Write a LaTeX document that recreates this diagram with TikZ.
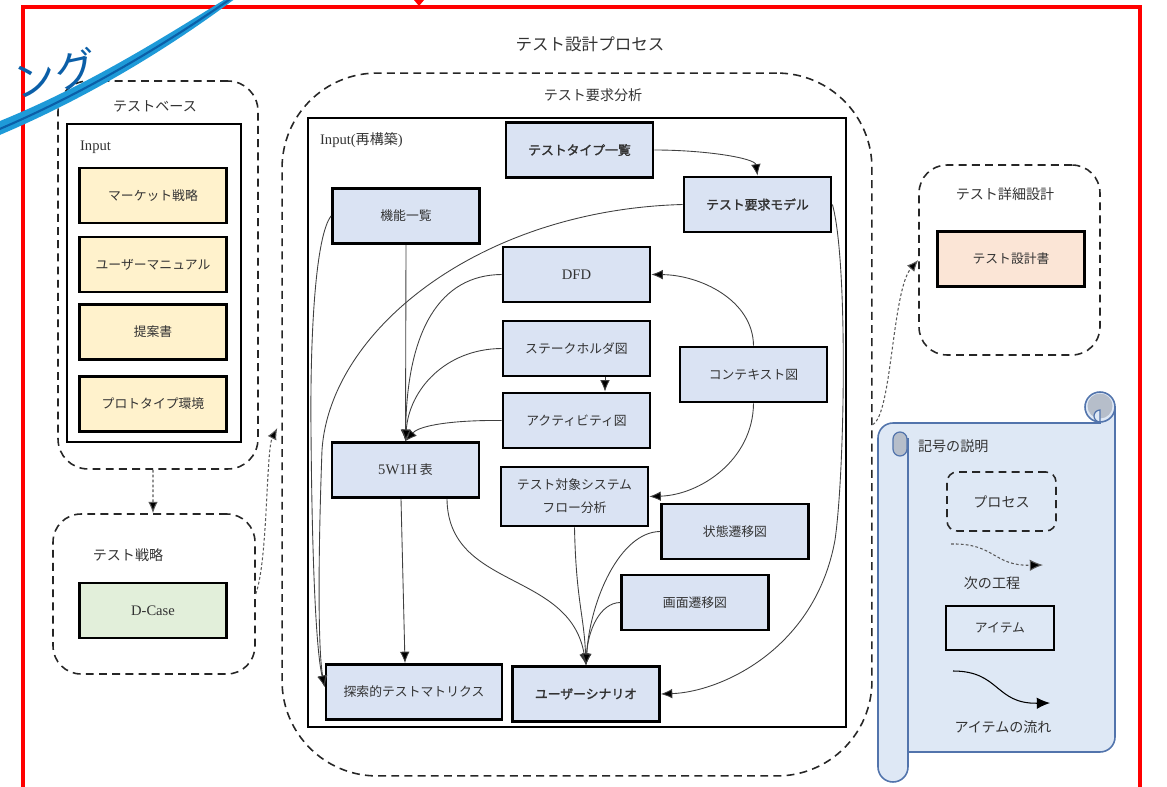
\documentclass[tikz,border=0pt]{standalone}
\usepackage{fontspec}
\setmainfont{Liberation Serif}
\newfontfamily\jp{Noto Sans CJK JP}
\newfontfamily\jpbf{Noto Sans CJK JP}[FakeBold=1.8]
\usetikzlibrary{arrows.meta}

\definecolor{itemblue}{HTML}{DAE3F3}
\definecolor{itemyellow}{HTML}{FFF2CC}
\definecolor{itemgreen}{HTML}{E2EFDA}
\definecolor{itempeach}{HTML}{FBE5D6}
\definecolor{scrollfill}{HTML}{DEE8F5}
\definecolor{scrollline}{HTML}{5274AC}
\definecolor{curlgray}{HTML}{B6BECA}
\definecolor{txt}{HTML}{333333}
\definecolor{penblue}{HTML}{1E9AD8}
\definecolor{pendark}{HTML}{0B5FA8}

% Latin words inside Japanese labels
\newcommand\mylatin[1]{{\rmfamily\fontsize{8.3}{10}\selectfont #1}}

\begin{document}
\begin{tikzpicture}[x=0.02cm, y=-0.02cm,
  boxtext/.style={font=\jp\fontsize{7.3}{13}\selectfont, text=txt},
  lbl/.style={font=\jp\fontsize{8}{10}\selectfont, text=txt, inner sep=1pt},
  item/.style={draw=black, line width=1.6pt, fill=itemblue, minimum width=2.94cm,
               minimum height=1.1cm, inner sep=1pt, align=center, boxtext},
  bolditem/.style={item, font=\jpbf\fontsize{7.3}{13}\selectfont},
  holder/.style={draw=black, line width=1.4pt, inner sep=0pt},
  process/.style={draw=black!85, line width=0.9pt, dash pattern=on 4.5pt off 3pt, inner sep=0pt},
  flowarrow/.style={draw=black!75, line width=0.5pt, -{Latex[length=6.5pt,width=5.5pt,fill=black]}},
  nextarrow/.style={draw=black!65, line width=0.6pt, dash pattern=on 1.6pt off 1.2pt,
                    -{Latex[length=6.5pt,width=5.5pt,fill=black]}},
  scroll/.style={draw=scrollline, fill=scrollfill, line width=0.9pt},
]
\useasboundingbox (0,0) rectangle (1167,787);

% outer frame
\draw[red, line width=2.3pt] (23,800) -- (23,7) -- (1140,7) -- (1140,800);
\fill[red] (414,0) -- (424,0) -- (419,6) -- cycle;

\node[font=\jp\fontsize{9.4}{11}\selectfont, text=txt] (title) at (590,44) {テスト設計プロセス};

% ---------- test basis ----------
\node[process, rounded corners=0.6cm, minimum width=4cm, minimum height=7.76cm] (base) at (158,275) {};
\node[lbl] (basetitle) at (155,106) {テストベース};
\node[holder, minimum width=3.48cm, minimum height=6.36cm] (basein) at (154,283) {};
\node[lbl, anchor=west] (baseinput) at (78,147) {\mylatin{Input}};
\node[item, fill=itemyellow] (mkt) at (153,195.5) {マーケット戦略};
\node[item, fill=itemyellow] (manual) at (153,264.5) {ユーザーマニュアル};
\node[item, fill=itemyellow] (proposal) at (153,332) {提案書};
\node[item, fill=itemyellow] (proto) at (153,404) {プロトタイプ環境};

% ---------- test strategy ----------
\node[process, rounded corners=0.56cm, minimum width=4.04cm, minimum height=3.2cm] (strat) at (154,594) {};
\node[lbl] (strattitle) at (128,555) {テスト戦略};
\node[item, fill=itemgreen] (dcase) at (153,610.5) {\mylatin{D-Case}};

% ---------- test requirement analysis ----------
\node[process, rounded corners=1.9cm, minimum width=11.8cm, minimum height=14.06cm] (req) at (577,424.5) {};
\node[lbl] (reqtitle) at (593,95) {テスト要求分析};
\node[holder, minimum width=10.76cm, minimum height=12.18cm] (reqin) at (577,422.5) {};
\node[lbl, anchor=west] (reqinput) at (318,140) {\mylatin{Input(}再構築\mylatin{)}};

\node[bolditem] (ttype) at (579.5,150) {テストタイプ一覧};
\node[bolditem] (model) at (757.5,204.5) {テスト要求モデル};
\node[item] (kinou) at (406,216) {機能一覧};
\node[item] (dfd) at (576.5,274.5) {\mylatin{DFD}};
\node[item] (stake) at (576.5,348.5) {ステークホルダ図};
\node[item] (act) at (576.5,420.5) {アクティビティ図};
\node[item] (ctx) at (753.5,374.5) {コンテキスト図};
\node[item] (w5) at (405.5,470) {\mylatin{5W1H} 表};
\node[item, minimum height=1.18cm] (flow) at (574.5,496.5) {テスト対象システム\\フロー分析};
\node[item] (state) at (735,531.5) {状態遷移図};
\node[item] (screen) at (695,602.5) {画面遷移図};
\node[item, minimum width=3.52cm] (tansaku) at (414,692) {探索的テストマトリクス};
\node[bolditem] (user) at (586,694) {ユーザーシナリオ};

% item flows
\draw[flowarrow] (ttype.east) .. controls (705,150) and (755,158) .. (model.north);
\draw[flowarrow] (model.west) .. controls (480,210) and (330,330) .. (322,450)
                 .. controls (318,560) and (318,650) .. ([yshift=0.1cm]tansaku.west);
\draw[flowarrow] (kinou.west) .. controls (316,235) and (310,330) .. (311,430)
                 .. controls (312,560) and (316,650) .. ([yshift=0.1cm]tansaku.west);
\draw[flowarrow] (kinou.south) -- (w5.north);
\draw[flowarrow] (dfd.west) .. controls (440,275) and (407,330) .. (w5.north);
\draw[flowarrow] (stake.west) .. controls (445,349) and (409,390) .. (w5.north);
\draw[flowarrow] (act.west) .. controls (455,420) and (420,425) .. (w5.north);
\draw[flowarrow] ([xshift=0.57cm]stake.south) -- ([xshift=0.57cm]act.north);
\draw[flowarrow] (ctx.north) .. controls (753,300) and (700,275) .. (dfd.east);
\draw[flowarrow] (ctx.south) .. controls (753,460) and (700,495) .. (flow.east);
\draw[flowarrow] ([xshift=-0.09cm]w5.south) -- ([xshift=-0.18cm]tansaku.north);
\draw[flowarrow] ([xshift=0.83cm]w5.south) .. controls (448,590) and (570,570) .. (user.north);
\draw[flowarrow] (flow.south) .. controls (576,600) and (584,615) .. (user.north);
\draw[flowarrow] (state.west) .. controls (620,532) and (590,600) .. (user.north);
\draw[flowarrow] (screen.west) .. controls (600,603) and (588,630) .. (user.north);
\draw[flowarrow] (model.east) .. controls (848,260) and (845,470) .. (835,540)
                 .. controls (815,650) and (720,692) .. (user.east);

% ---------- detailed test design ----------
\node[process, rounded corners=0.56cm, minimum width=3.62cm, minimum height=3.8cm] (detail) at (1009.5,260) {};
\node[lbl] (detailtitle) at (1005,194) {テスト詳細設計};
\node[item, fill=itempeach] (spec) at (1011,259) {テスト設計書};

% process order
\draw[nextarrow] ([xshift=-0.1cm]base.south) -- ([xshift=-0.02cm]strat.north);
\draw[nextarrow] (strat.east) .. controls (268,560) and (266,450) .. ([xshift=-0.08cm,yshift=-0.07cm]req.west);
\draw[nextarrow] (req.east) .. controls (892,415) and (892,290) .. (detail.west);

% ---------- legend scroll ----------
\filldraw[scroll] (878,438) arc[start angle=180, end angle=90, radius=0.3cm] -- (1100,423)
   -- (1100,407) -- (1115,407) -- (1115,737) arc[start angle=0, end angle=-90, radius=0.3cm]
   -- (878,752) -- cycle;
\filldraw[scroll] (1100,407) circle[radius=0.3cm];
\fill[curlgray] (1100,406) circle[radius=0.25cm];
\filldraw[fill=scrollfill, draw=scrollline, line width=0.7pt] (1100,410) arc[start angle=90, end angle=270, radius=0.12cm] -- cycle;
\filldraw[scroll] (878,438) -- (878,767) arc[start angle=180, end angle=360, radius=0.3cm] -- (908,438);
\filldraw[fill=curlgray, draw=scrollline, line width=0.7pt] (893,449) -- (893,439)
   arc[start angle=180, end angle=0, radius=0.14cm] -- (907,449)
   arc[start angle=0, end angle=-180, radius=0.14cm] -- cycle;

\node[lbl, anchor=west] (legtitle) at (916,446) {記号の説明};
\node[process, rounded corners=0.2cm, minimum width=2.18cm, minimum height=1.18cm, lbl] (legproc) at (1001.5,501.5) {プロセス};
\coordinate (nexta) at (951,544);
\coordinate (nextb) at (1043,565);
\draw[nextarrow, -{Latex[length=7.5pt,width=6.5pt,fill=black]}] (nexta) .. controls (995,543) and (993,566) .. (nextb);
\node[lbl] (legnext) at (992,583) {次の工程};
\node[item, fill=none, minimum width=2.16cm, minimum height=0.88cm] (legitem) at (1000,628) {アイテム};
\coordinate (flowa) at (953,671);
\coordinate (flowb) at (1050,703);
\draw[flowarrow, draw=black, line width=0.6pt, -{Latex[length=7.5pt,width=6.5pt]}] (flowa) .. controls (1000,671) and (995,704) .. (flowb);
\node[lbl] (legflow) at (1003,727) {アイテムの流れ};

% ---------- pen annotation ----------
\fill[penblue] (-5,123) .. controls (90,85) and (170,33) .. (232,-5)
   -- (240,-5) .. controls (178,42) and (93,96) .. (-5,137) -- cycle;
\draw[pendark, line width=1.2pt] (-5,131) .. controls (90,91) and (175,38) .. (236,-5);
\node[text=pendark, font=\jp\fontsize{24}{24}\selectfont, rotate=12, anchor=east, inner sep=0pt] (pentext) at (97,65) {ング};
\end{tikzpicture}
\end{document}
